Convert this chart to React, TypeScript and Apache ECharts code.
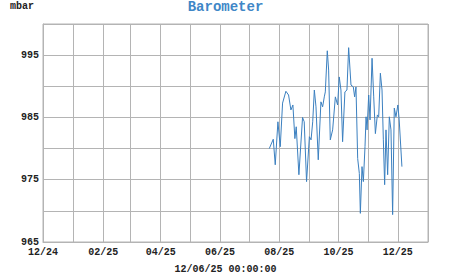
import React, { useEffect, useRef } from "react";
import * as echarts from "echarts";

const times: string[] = [
  "2025-07-21T18", "2025-07-25T20", "2025-07-27T21", "2025-07-30T15", "2025-08-02T01",
  "2025-08-04T10", "2025-08-07T20", "2025-08-10T14", "2025-08-13T00", "2025-08-15T01",
  "2025-08-17T02", "2025-08-18T11", "2025-08-21T05", "2025-08-24T23", "2025-08-26T16",
  "2025-08-29T02", "2025-09-01T00", "2025-09-02T17", "2025-09-04T10", "2025-09-06T02",
  "2025-09-07T19", "2025-09-10T03", "2025-09-12T21", "2025-09-14T15", "2025-09-16T08",
  "2025-09-17T09", "2025-09-19T10", "2025-09-20T19", "2025-09-22T12", "2025-09-24T22",
  "2025-09-27T17", "2025-09-30T01", "2025-10-01T17", "2025-10-03T11", "2025-10-05T04",
  "2025-10-07T13", "2025-10-09T15", "2025-10-11T09", "2025-10-13T19", "2025-10-16T04",
  "2025-10-17T13", "2025-10-18T22", "2025-10-20T16", "2025-10-22T09", "2025-10-23T10",
  "2025-10-25T03", "2025-10-26T12", "2025-10-28T05", "2025-10-29T07", "2025-10-30T08",
  "2025-11-01T00", "2025-11-02T09", "2025-11-04T11", "2025-11-06T04", "2025-11-07T21",
  "2025-11-09T22", "2025-11-11T07", "2025-11-13T00", "2025-11-14T17", "2025-11-16T02",
  "2025-11-17T10", "2025-11-18T19", "2025-11-20T12", "2025-11-22T05", "2025-11-23T22",
  "2025-11-25T15", "2025-11-27T08", "2025-11-29T01", "2025-12-01T00", "2025-12-02T09",
  "2025-12-05T04",
];

const pressure: number[] = [
  980.0, 981.5, 977.4, 984.3, 980.3,
  987.3, 989.2, 988.6, 986.2, 987.0,
  981.6, 983.5, 975.8, 985.0, 984.3,
  974.7, 981.9, 981.4, 984.3, 989.4,
  986.7, 978.2, 987.5, 986.7, 988.3,
  989.1, 995.7, 992.6, 981.4, 983.0,
  988.3, 987.0, 991.5, 989.4, 981.1,
  989.1, 989.4, 996.2, 990.2, 989.9,
  988.3, 989.9, 978.4, 976.0, 969.6,
  977.1, 974.7, 980.3, 985.1, 983.0,
  988.6, 984.6, 994.5, 988.3, 982.4,
  985.4, 985.1, 992.1, 989.4, 981.4,
  974.2, 983.0, 975.8, 985.1, 983.0,
  969.4, 986.5, 985.1, 987.0, 984.6,
  977.1,
];

const titleText = "Barometer";
const unitText = "mbar";
const timestampText = "12/06/25 00:00:00";
const xStart = "2024-12-01T00";
const xEnd = "2026-01-01T00";
const yMin = 965;
const yMax = 1000;
const yStep = 5;

const toMs = (s: string) => Date.parse(s + ":00:00Z");

const FONT = "'Courier New', 'Liberation Mono', monospace";
const GRID = "#b4b4b4";
const TEXT = "#222";

export default function App() {
  const ref = useRef<HTMLDivElement>(null);
  useEffect(() => {
    document.body.style.margin = "0";
    if (!ref.current) return;
    const chart = echarts.init(ref.current, undefined, { renderer: "svg" });
    const data = times.map((t, i) => [toMs(t), pressure[i]]);
    chart.setOption({
      animation: false,
      useUTC: true,
      title: [
        {
          text: titleText,
          left: "center",
          top: 0,
          padding: 0,
          textStyle: { fontFamily: FONT, fontSize: 14, fontWeight: "bold", color: "#3f87c7" },
        },
        {
          text: unitText,
          left: 10,
          top: 1,
          padding: 0,
          textStyle: { fontFamily: FONT, fontSize: 10, fontWeight: "bold", color: TEXT },
        },
        {
          text: timestampText,
          left: "center",
          top: 264,
          padding: 0,
          textStyle: { fontFamily: FONT, fontSize: 10, fontWeight: "bold", color: TEXT },
        },
      ],
      grid: {
        left: 43,
        right: 23,
        top: 24,
        bottom: 33,
        show: true,
        borderColor: GRID,
        borderWidth: 1,
        containLabel: false,
      },
      xAxis: {
        type: "time",
        min: toMs(xStart),
        max: toMs(xEnd),
        splitNumber: 13,
        minInterval: 28 * 864e5,
        maxInterval: 31 * 864e5,
        axisLine: { lineStyle: { color: GRID } },
        axisTick: { show: false },
        splitLine: { show: true, lineStyle: { color: GRID, width: 1 } },
        axisLabel: {
          margin: 5,
          fontFamily: FONT,
          fontSize: 10,
          fontWeight: "bold",
          color: TEXT,
          hideOverlap: false,
          showMinLabel: true,
          showMaxLabel: true,
          formatter: (v: number) => {
            const d = new Date(v);
            const m = d.getUTCMonth();
            if (m % 2 === 0) return "";
            const mm = String(m + 1).padStart(2, "0");
            const yy = String(d.getUTCFullYear() % 100).padStart(2, "0");
            return mm + "/" + yy;
          },
        },
      },
      yAxis: {
        type: "value",
        min: yMin,
        max: yMax,
        interval: yStep,
        axisLine: { show: true, lineStyle: { color: GRID } },
        axisTick: { show: false },
        splitLine: { show: true, lineStyle: { color: GRID, width: 1 } },
        axisLabel: {
          margin: 4,
          fontFamily: FONT,
          fontSize: 10,
          fontWeight: "bold",
          color: TEXT,
          formatter: (v: number) => (v % 10 === 5 ? String(v) : ""),
        },
      },
      series: [
        {
          type: "line",
          data,
          showSymbol: false,
          symbol: "none",
          lineStyle: { color: "#3b80c0", width: 1 },
          itemStyle: { color: "#3b80c0" },
        },
      ],
    });
    return () => chart.dispose();
  }, []);
  return <div ref={ref} style={{ width: 451, height: 275 }} />;
}
